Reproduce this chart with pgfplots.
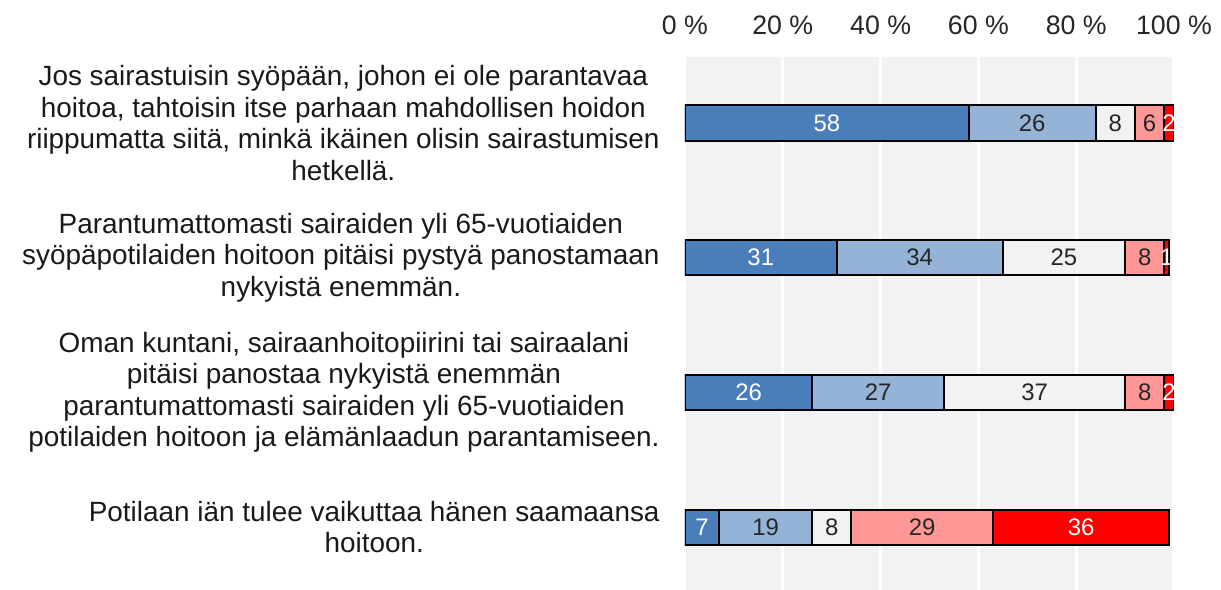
\documentclass[border=0pt]{standalone}
\usepackage{pgfplots}
\pgfplotsset{compat=1.18}
\usepackage{fontspec}
\setmainfont{Liberation Sans}

\definecolor{dblue}{HTML}{4A7EBB}
\definecolor{lblue}{HTML}{95B3D7}
\definecolor{nwhite}{HTML}{F2F2F2}
\definecolor{pink}{HTML}{FF9797}
\definecolor{bred}{HTML}{FF0000}
\definecolor{bggray}{HTML}{F2F2F2}

\begin{document}
\begin{tikzpicture}
\begin{axis}[name=ax,
  scale only axis, width=244.5bp, height=266.5bp,
  xbar stacked, bar width=17.5bp,
  xmin=0, xmax=100, ymin=-0.467, ymax=3.49,
  xtick={0,20,...,100},
  xticklabels={0 \%,20 \%,40 \%,60 \%,80 \%,100 \%},
  xticklabel pos=upper,
  ytick={0,1,2,3},
  yticklabels={
    {Potilaan iän tulee vaikuttaa hänen saamaansa\\hoitoon.},
    {Oman kuntani, sairaanhoitopiirini tai sairaalani\\pitäisi panostaa nykyistä enemmän\\parantumattomasti sairaiden yli 65-vuotiaiden\\potilaiden hoitoon ja elämänlaadun parantamiseen.},
    {Parantumattomasti sairaiden yli 65-vuotiaiden\\syöpäpotilaiden hoitoon pitäisi pystyä panostamaan\\nykyistä enemmän.},
    {Jos sairastuisin syöpään, johon ei ole parantavaa\\hoitoa, tahtoisin itse parhaan mahdollisen hoidon\\riippumatta siitä, minkä ikäinen olisin sairastumisen\\hetkellä.}},
  axis background/.style={fill=bggray},
  xmajorgrids, major grid style={white, line width=1.5bp},
  axis line style={draw=none}, major tick length=0pt,
  xticklabel style={font=\fontsize{13.4}{15}\selectfont, inner sep=0pt, text=black!85},
  yticklabel style={font=\fontsize{14}{15.85}\selectfont, inner sep=0pt, align=center, text=black!90},
  xticklabel shift=11bp, yticklabel shift=12.5bp,
  every axis plot/.append style={draw=black, line width=1bp},
  /pgf/number format/assume math mode=true,
  visualization depends on=rawx \as \rawx,
  nodes near coords={\pgfmathprintnumber{\rawx}},
  nodes near coords align=center,
  every node near coord/.append style={font=\fontsize{12}{13}\selectfont, anchor=center},
]
\addplot[fill=dblue, every node near coord/.append style={text=white}]
  coordinates {(7,0) (26,1) (31,2) (58,3)};
\addplot[fill=lblue, every node near coord/.append style={text=black!85}]
  coordinates {(19,0) (27,1) (34,2) (26,3)};
\addplot[fill=nwhite, every node near coord/.append style={text=black!85}]
  coordinates {(8,0) (37,1) (25,2) (8,3)};
\addplot[fill=pink, every node near coord/.append style={text=black!85}]
  coordinates {(29,0) (8,1) (8,2) (6,3)};
\addplot[fill=bred, every node near coord/.append style={text=white}]
  coordinates {(36,0) (2,1) (1,2) (2,3)};
\end{axis}
\pgfresetboundingbox
\path ([xshift=-342.5bp]ax.south west) rectangle ([xshift=23.5bp,yshift=28.5bp]ax.north east);
\end{tikzpicture}
\end{document}
